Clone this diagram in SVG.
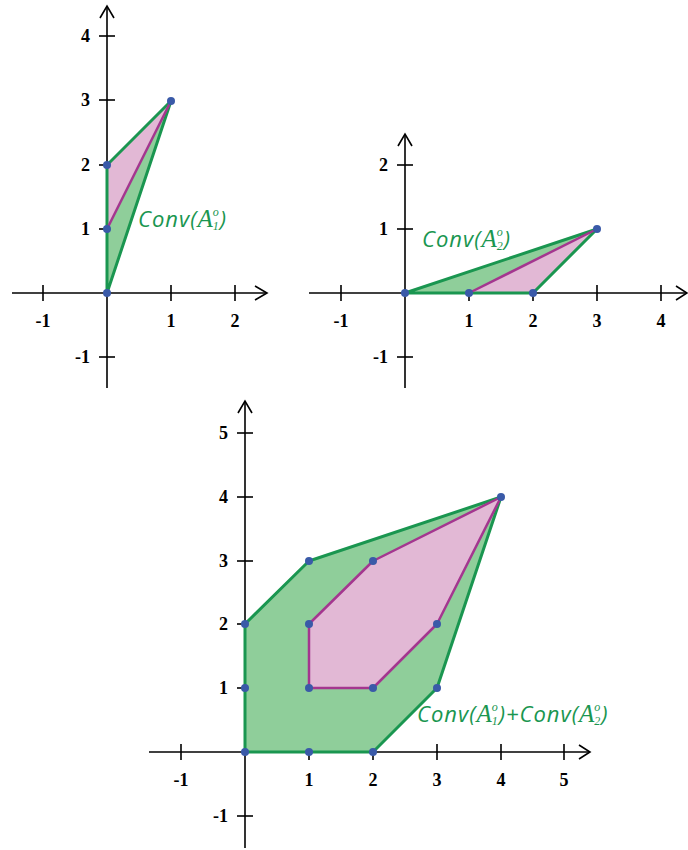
<svg xmlns="http://www.w3.org/2000/svg" width="688" height="850" viewBox="0 0 688 850">
<style>
.ax{stroke:#000;stroke-width:1.6;fill:none}
.tk{stroke:#000;stroke-width:1.6}
.num{font-family:"Liberation Serif","DejaVu Serif",serif;font-weight:bold;font-size:18px;fill:#000}
.nx{text-anchor:middle}
.ny{text-anchor:end}
.gp{fill:#8fce9a;stroke:#1a9650;stroke-width:3;stroke-linejoin:round}
.pp{fill:#e2b8d5;stroke:#a4368f;stroke-width:2.5;stroke-linejoin:round}
.ge{stroke:#1a9650;stroke-width:3;fill:none;stroke-linecap:round}
.me{stroke:#a4368f;stroke-width:2.5}
.dot{fill:#3a5aa8}
.lab{font-family:"Open Sans","DejaVu Sans",sans-serif;font-style:italic;font-size:22px;letter-spacing:1px;fill:#1a9650}
.A{font-family:"Liberation Serif","DejaVu Serif",serif;font-size:25px;letter-spacing:0}
.sm{font-family:"Liberation Serif","DejaVu Serif",serif;font-size:12px;letter-spacing:0}
</style>
<rect width="688" height="850" fill="#fff"/>

<!-- Plot 1 -->
<g id="plot1">
  <g id="plot1-axes">
    <line class="ax" x1="12" y1="293" x2="267" y2="293"/>
    <path class="ax" d="M255,286 L267,293 L255,300"/>
    <line class="ax" x1="107" y1="388" x2="107" y2="6"/>
    <path class="ax" d="M100,18 L107,6 L114,18"/>
    <line class="tk" x1="43" y1="285" x2="43" y2="301"/>
    <line class="tk" x1="171" y1="285" x2="171" y2="301"/>
    <line class="tk" x1="235" y1="285" x2="235" y2="301"/>
    <line class="tk" x1="99" y1="36" x2="115" y2="36"/>
    <line class="tk" x1="99" y1="100" x2="115" y2="100"/>
    <line class="tk" x1="99" y1="165" x2="115" y2="165"/>
    <line class="tk" x1="99" y1="229" x2="115" y2="229"/>
    <line class="tk" x1="99" y1="357" x2="115" y2="357"/>
    <text class="num nx" x="43" y="327">-1</text>
    <text class="num nx" x="171" y="327">1</text>
    <text class="num nx" x="235" y="327">2</text>
    <text class="num ny" x="90" y="42">4</text>
    <text class="num ny" x="90" y="106">3</text>
    <text class="num ny" x="90" y="171">2</text>
    <text class="num ny" x="90" y="235">1</text>
    <text class="num ny" x="90" y="363">-1</text>
  </g>
  <g id="plot1-shapes">
    <polygon points="107,293 107,165 171,101" fill="#8fce9a"/>
    <polygon points="107,229 107,165 171,101" fill="#e2b8d5"/>
    <polyline class="ge" points="171,101 107,165 107,293 171,101"/>
    <line class="me" x1="107" y1="229" x2="171" y2="101"/>
  </g>
  <g id="plot1-dots">
    <circle class="dot" cx="107" cy="293" r="4"/>
    <circle class="dot" cx="107" cy="229" r="4"/>
    <circle class="dot" cx="107" cy="165" r="4"/>
    <circle class="dot" cx="171" cy="101" r="4"/>
  </g>
  <text class="lab" x="138" y="227">Conv(<tspan class="A">A</tspan><tspan class="sm" dx="0" dy="-11">o</tspan><tspan class="sm" dx="-6" dy="14">1</tspan><tspan dx="1" dy="-3">)</tspan></text>
</g>

<!-- Plot 2 -->
<g id="plot2">
  <g id="plot2-axes">
    <line class="ax" x1="309" y1="293" x2="687" y2="293"/>
    <path class="ax" d="M676,286 L687,293 L676,300"/>
    <line class="ax" x1="405" y1="388" x2="405" y2="134"/>
    <path class="ax" d="M398,146 L405,134 L412,146"/>
    <line class="tk" x1="341" y1="285" x2="341" y2="301"/>
    <line class="tk" x1="469" y1="285" x2="469" y2="301"/>
    <line class="tk" x1="533" y1="285" x2="533" y2="301"/>
    <line class="tk" x1="597" y1="285" x2="597" y2="301"/>
    <line class="tk" x1="661" y1="285" x2="661" y2="301"/>
    <line class="tk" x1="397" y1="165" x2="413" y2="165"/>
    <line class="tk" x1="397" y1="229" x2="413" y2="229"/>
    <line class="tk" x1="397" y1="357" x2="413" y2="357"/>
    <text class="num nx" x="341" y="327">-1</text>
    <text class="num nx" x="469" y="327">1</text>
    <text class="num nx" x="533" y="327">2</text>
    <text class="num nx" x="597" y="327">3</text>
    <text class="num nx" x="661" y="327">4</text>
    <text class="num ny" x="388" y="171">2</text>
    <text class="num ny" x="388" y="235">1</text>
    <text class="num ny" x="388" y="363">-1</text>
  </g>
  <g id="plot2-shapes">
    <polygon points="405,293 597,229 533,293" fill="#8fce9a"/>
    <polygon points="469,293 597,229 533,293" fill="#e2b8d5"/>
    <polyline class="ge" points="405,293 597,229 533,293 405,293"/>
    <line class="me" x1="469" y1="293" x2="597" y2="229"/>
  </g>
  <g id="plot2-dots">
    <circle class="dot" cx="405" cy="293" r="4"/>
    <circle class="dot" cx="469" cy="293" r="4"/>
    <circle class="dot" cx="533" cy="293" r="4"/>
    <circle class="dot" cx="597" cy="229" r="4"/>
  </g>
  <text class="lab" x="422" y="247">Conv(<tspan class="A">A</tspan><tspan class="sm" dx="0" dy="-11">o</tspan><tspan class="sm" dx="-6" dy="14">2</tspan><tspan dx="1" dy="-3">)</tspan></text>
</g>

<!-- Plot 3 -->
<g id="plot3">
  <g id="plot3-axes">
    <line class="ax" x1="149" y1="752" x2="590" y2="752"/>
    <path class="ax" d="M579,745 L590,752 L579,759"/>
    <line class="ax" x1="245" y1="848" x2="245" y2="401"/>
    <path class="ax" d="M238,413 L245,401 L252,413"/>
    <line class="tk" x1="181" y1="744" x2="181" y2="760"/>
    <line class="tk" x1="309" y1="744" x2="309" y2="760"/>
    <line class="tk" x1="373" y1="744" x2="373" y2="760"/>
    <line class="tk" x1="437" y1="744" x2="437" y2="760"/>
    <line class="tk" x1="501" y1="744" x2="501" y2="760"/>
    <line class="tk" x1="564" y1="744" x2="564" y2="760"/>
    <line class="tk" x1="237" y1="433" x2="253" y2="433"/>
    <line class="tk" x1="237" y1="497" x2="253" y2="497"/>
    <line class="tk" x1="237" y1="561" x2="253" y2="561"/>
    <line class="tk" x1="237" y1="624" x2="253" y2="624"/>
    <line class="tk" x1="237" y1="688" x2="253" y2="688"/>
    <line class="tk" x1="237" y1="816" x2="253" y2="816"/>
    <text class="num nx" x="181" y="786">-1</text>
    <text class="num nx" x="309" y="786">1</text>
    <text class="num nx" x="373" y="786">2</text>
    <text class="num nx" x="437" y="786">3</text>
    <text class="num nx" x="501" y="786">4</text>
    <text class="num nx" x="564" y="786">5</text>
    <text class="num ny" x="228" y="439">5</text>
    <text class="num ny" x="228" y="503">4</text>
    <text class="num ny" x="228" y="567">3</text>
    <text class="num ny" x="228" y="630">2</text>
    <text class="num ny" x="228" y="694">1</text>
    <text class="num ny" x="228" y="822">-1</text>
  </g>
  <g id="plot3-shapes">
    <polygon class="gp" points="245,752 373,752 437,688 501,497 309,561 245,624"/>
    <polygon class="pp" points="309,688 373,688 437,624 501,497 373,561 309,624"/>
  </g>
  <g id="plot3-dots">
    <circle class="dot" cx="245" cy="752" r="4"/>
    <circle class="dot" cx="309" cy="752" r="4"/>
    <circle class="dot" cx="373" cy="752" r="4"/>
    <circle class="dot" cx="437" cy="688" r="4"/>
    <circle class="dot" cx="501" cy="497" r="4"/>
    <circle class="dot" cx="309" cy="561" r="4"/>
    <circle class="dot" cx="245" cy="624" r="4"/>
    <circle class="dot" cx="245" cy="688" r="4"/>
    <circle class="dot" cx="309" cy="688" r="4"/>
    <circle class="dot" cx="373" cy="688" r="4"/>
    <circle class="dot" cx="437" cy="624" r="4"/>
    <circle class="dot" cx="373" cy="561" r="4"/>
    <circle class="dot" cx="309" cy="624" r="4"/>
  </g>
  <text class="lab" x="417" y="722">Conv(<tspan class="A">A</tspan><tspan class="sm" dx="0" dy="-11">o</tspan><tspan class="sm" dx="-6" dy="14">1</tspan><tspan dx="1" dy="-3">)+Conv(</tspan><tspan class="A">A</tspan><tspan class="sm" dx="0" dy="-11">o</tspan><tspan class="sm" dx="-6" dy="14">2</tspan><tspan dx="1" dy="-3">)</tspan></text>
</g>
</svg>
